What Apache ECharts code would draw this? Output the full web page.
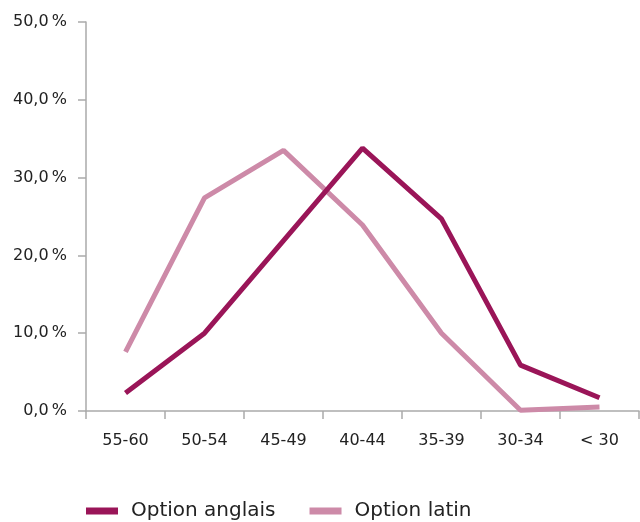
<!DOCTYPE html>
<html>
<head>
<meta charset="utf-8">
<script src="https://cdn.jsdelivr.net/npm/echarts@6/dist/echarts.min.js"></script>
<style>
  html, body { margin: 0; padding: 0; background: #fff; }
  #chart { width: 640px; height: 522px; }
</style>
</head>
<body>
<div id="chart"></div>
<script>
// tranches d'age
const categories = ['55-60', '50-54', '45-49', '40-44', '35-39', '30-34', '< 30']
const anglais = [2.3, 10.0, 21.9, 33.8, 24.7, 5.9, 1.7]
const latin = [7.6, 27.4, 33.5, 23.9, 10.0, 0.1, 0.5]

const myChart = echarts.init(document.getElementById('chart'))
const font = '"DejaVu Sans", sans-serif'
const options = {
  animation: false,
  textStyle: { fontFamily: font },
  legend: {
    left: 86,
    top: 501,
    padding: 0,
    itemWidth: 32,
    itemHeight: 7,
    itemGap: 34,
    icon: 'rect',
    textStyle: {
      color: '#222',
      fontSize: 20,
      fontFamily: font,
      padding: [0, 0, 0, 8]
    },
    data: ['Option anglais', 'Option latin']
  },
  grid: {
    left: 86,
    right: 1,
    top: 22,
    bottom: 111,
    containLabel: false
  },
  xAxis: {
    type: 'category',
    data: categories,
    boundaryGap: true,
    axisLine: { lineStyle: { color: '#aaa', width: 1.5 } },
    axisTick: { show: true, length: 8, lineStyle: { color: '#aaa', width: 1.5 } },
    axisLabel: {
      color: '#222',
      fontSize: 16,
      margin: 22,
      fontFamily: font
    }
  },
  yAxis: {
    type: 'value',
    min: 0,
    max: 50,
    interval: 10,
    axisLine: { show: true, lineStyle: { color: '#aaa', width: 1.5 } },
    axisTick: { show: true, length: 8, lineStyle: { color: '#aaa', width: 1.5 } },
    splitLine: { show: false },
    axisLabel: {
      color: '#222',
      fontSize: 16,
      margin: 19,
      fontFamily: font,
      formatter: v => v.toFixed(1).replace('.', ',') + '\u2009%'
    }
  },
  series: [
    {
      name: 'Option anglais',
      type: 'line',
      data: anglais,
      symbol: 'none',
      lineStyle: { color: '#9a1558', width: 5 },
      itemStyle: { color: '#9a1558' },
      z: 3
    },
    {
      name: 'Option latin',
      type: 'line',
      data: latin,
      symbol: 'none',
      lineStyle: { color: '#cd8aa8', width: 5 },
      itemStyle: { color: '#cd8aa8' },
      z: 2
    }
  ]
}
myChart.setOption(options)
</script>
</body>
</html>
